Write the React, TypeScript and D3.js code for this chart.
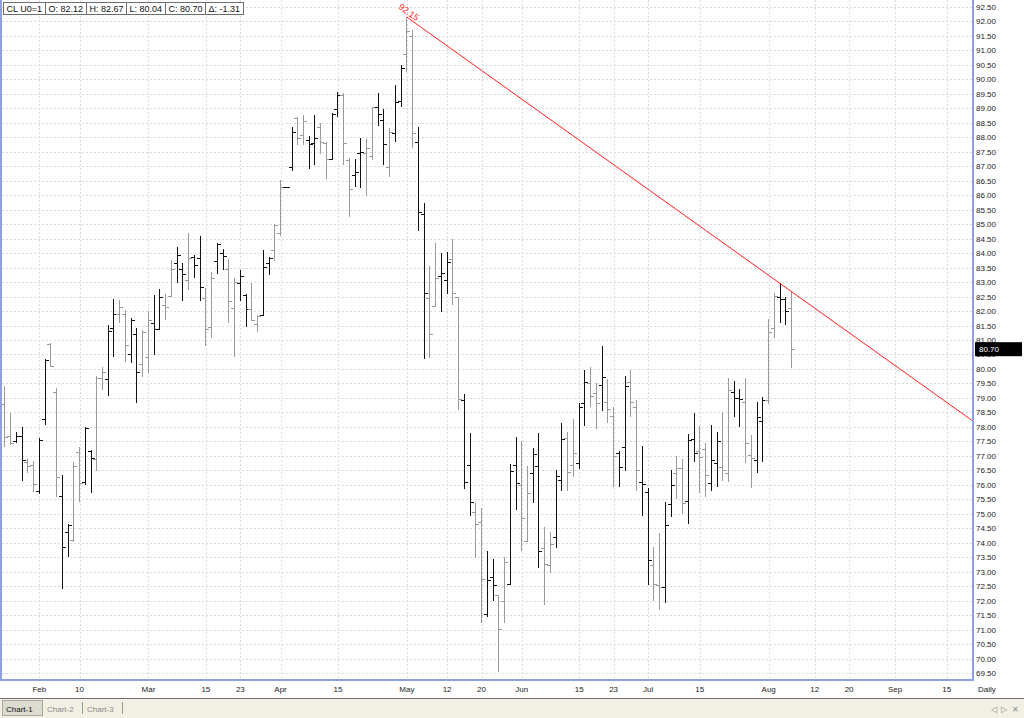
import { useMemo } from 'react';
import * as d3 from 'd3';

const WIDTH = 1024;
const HEIGHT = 718;
const PLOT = { left: 2, right: 972, top: 0, bottom: 680 };
const FONT = '"Liberation Sans", Arial, sans-serif';

// trading calendar (weekdays minus exchange holidays, Good Friday kept as a flat bar)
const CAL_START = '2010-01-22';
const CAL_END = '2010-09-30';
const HOLIDAYS = ['2010-02-15', '2010-05-31', '2010-07-05', '2010-09-06'];
// visible bar-index window of the chart
const X_DOMAIN = [-0.5, 168.4];
const Y_DOMAIN = [69.5, 92.5];

// CL U0 daily bars, 22 Jan .. 6 Aug 2010
const opens = [
  78.8, 77.7, 77.5, 77.7, 76.8, 76.7, 75.8, 78.26, 80.85, 79.2, 75.6, 74.37, 74.1, 77.12, 76.1, 77.18, 76.88, 79.7, 79.64, 81.4,
  81.9, 81.9, 80.5, 81.2, 80.16, 80.43, 81.6, 81.37, 82.21, 82.52, 83.67, 83.44, 83.07, 83.88, 83.82, 82.44, 81.44, 83.73, 84.0, 83.44,
  82.1, 82.96, 82.56, 82.06, 81.54, 81.86, 83.65, 84.11, 84.7, 86.3, 86.99, 88.66, 88.08, 87.9, 87.79, 88.37, 87.81, 87.24, 88.97, 89.46,
  87.22, 86.7, 87.46, 87.45, 87.35, 89.06, 88.6, 86.99, 88.14, 89.26, 90.88, 91.5, 87.85, 85.35, 82.44, 82.18, 83.2, 83.07, 83.79, 82.48,
  78.93, 76.69, 75.07, 74.73, 71.54, 72.83, 72.2, 71.97, 72.58, 76.69, 75.99, 74.07, 76.4, 76.65, 73.81, 73.23, 74.19, 76.17, 77.61, 76.69,
  76.74, 78.82, 79.5, 79.16, 79.45, 78.87, 78.38, 77.11, 77.3, 79.56, 78.68, 76.11, 75.74, 73.23, 72.54, 72.46, 75.33, 76.42, 76.57, 75.45,
  77.57, 77.15, 77.23, 76.05, 76.74, 76.6, 76.4, 79.22, 78.99, 78.87, 77.03, 76.86, 78.21, 78.93, 81.4, 82.5, 82.42, 82.12,
];
const highs = [
  79.4, 78.47, 77.81, 77.99, 76.88, 76.83, 77.61, 80.33, 80.91, 79.33, 76.34, 74.64, 76.78, 77.3, 78.01, 77.2, 79.76, 80.08, 81.52, 82.4,
  82.38, 82.04, 81.75, 81.4, 81.35, 82.0, 82.56, 82.76, 82.58, 83.76, 84.2, 83.67, 84.69, 83.94, 84.58, 82.79, 83.36, 84.34, 84.13, 83.79,
  83.13, 83.42, 82.59, 82.96, 81.86, 84.1, 83.86, 85.0, 86.53, 86.3, 88.37, 88.69, 88.77, 88.05, 88.77, 88.48, 87.85, 88.83, 89.58, 89.52,
  87.27, 87.25, 87.97, 87.93, 89.06, 89.54, 88.97, 88.31, 89.81, 90.5, 92.15, 91.71, 88.37, 85.72, 83.56, 84.36, 84.02, 84.05, 84.48, 82.48,
  79.15, 77.78, 75.38, 75.19, 73.73, 73.43, 72.2, 73.52, 76.72, 77.64, 77.51, 76.65, 77.26, 77.78, 74.53, 74.38, 76.51, 78.12, 77.84, 78.26,
  78.84, 79.96, 80.08, 79.5, 80.79, 79.64, 78.68, 77.15, 79.74, 79.95, 78.93, 77.34, 75.88, 73.84, 74.32, 75.42, 76.51, 77.0, 76.88, 77.76,
  78.49, 78.03, 77.46, 78.07, 77.84, 78.52, 79.68, 79.6, 79.3, 79.68, 77.72, 78.87, 79.04, 81.72, 82.61, 82.96, 82.48, 82.67,
];
const lows = [
  77.3, 77.38, 77.46, 76.14, 76.4, 75.74, 75.67, 78.07, 80.08, 75.59, 72.39, 73.52, 74.04, 75.4, 76.0, 75.7, 76.48, 79.27, 79.07, 80.4,
  81.58, 80.25, 80.2, 78.84, 79.73, 79.87, 80.48, 81.35, 81.69, 82.52, 82.96, 82.35, 82.73, 83.13, 82.35, 80.8, 81.06, 83.28, 83.42, 81.58,
  80.43, 82.33, 81.44, 81.66, 81.29, 81.84, 83.25, 83.74, 84.6, 86.3, 86.85, 87.73, 87.73, 86.9, 87.04, 87.42, 86.55, 87.22, 88.69, 87.04,
  85.24, 86.3, 86.24, 85.98, 87.22, 88.4, 87.04, 86.62, 87.85, 89.06, 90.27, 87.62, 84.78, 80.33, 80.39, 82.18, 81.98, 82.59, 82.21, 78.58,
  75.85, 74.92, 73.46, 71.22, 71.43, 72.0, 69.55, 71.22, 72.58, 75.13, 73.73, 74.04, 75.38, 73.12, 71.85, 72.94, 73.81, 75.8, 75.8, 76.28,
  76.54, 78.03, 78.68, 77.92, 78.55, 78.15, 75.94, 75.94, 76.49, 78.33, 75.8, 74.92, 72.54, 72.0, 71.68, 71.93, 74.9, 75.5, 74.99, 74.65,
  76.8, 75.73, 75.57, 75.8, 75.94, 76.14, 76.11, 78.35, 78.01, 76.74, 75.88, 76.42, 76.8, 78.78, 81.06, 81.58, 81.52, 80.04,
];
const closes = [
  77.65, 77.46, 77.7, 76.86, 76.65, 76.02, 77.55, 80.3, 80.1, 76.28, 73.85, 74.6, 76.66, 76.05, 77.95, 76.92, 79.68, 79.91, 81.3, 81.9,
  82.13, 80.83, 81.7, 79.89, 81.28, 81.69, 81.37, 82.49, 82.13, 83.44, 83.94, 83.28, 83.82, 83.59, 82.82, 81.38, 83.13, 84.32, 83.9, 82.36,
  83.01, 83.21, 82.06, 81.69, 81.83, 83.51, 83.82, 84.97, 86.3, 86.3, 88.19, 87.97, 88.56, 87.77, 87.97, 87.85, 87.24, 88.8, 89.46, 87.79,
  86.2, 86.8, 87.49, 87.62, 89.06, 88.8, 87.76, 88.19, 89.23, 90.38, 91.68, 88.14, 85.43, 82.63, 81.2, 83.15, 83.3, 83.71, 82.63, 78.95,
  76.11, 75.42, 74.65, 72.74, 72.71, 72.53, 71.01, 73.32, 76.48, 76.05, 74.84, 75.73, 77.06, 73.73, 73.27, 73.96, 76.31, 77.57, 76.45, 77.11,
  78.68, 79.56, 79.08, 78.82, 79.71, 78.61, 77.0, 76.63, 79.41, 78.87, 76.51, 76.03, 73.41, 72.58, 72.46, 74.61, 75.99, 76.57, 75.38, 77.55,
  77.11, 76.97, 76.34, 76.86, 77.52, 76.5, 79.27, 78.99, 78.96, 77.46, 76.92, 78.35, 78.93, 81.29, 82.52, 82.42, 82.01, 80.7,
];

// date axis
const tickDates = [
  '2010-02-01', '2010-02-10', '2010-03-01', '2010-03-15', '2010-03-23', '2010-04-01', '2010-04-15', '2010-05-03', '2010-05-12', '2010-05-20',
  '2010-06-01', '2010-06-15', '2010-06-23', '2010-07-01', '2010-07-15', '2010-08-02', '2010-08-12', '2010-08-20', '2010-09-01', '2010-09-15',
];
const tickLabels = ['Feb', '10', 'Mar', '15', '23', 'Apr', '15', 'May', '12', '20', 'Jun', '15', '23', 'Jul', '15', 'Aug', '12', '20', 'Sep', '15'];

// trendline drawn from the May high through the Aug 4 high
const trendDates = ['2010-05-03', '2010-08-04'];
const trendValues = [92.15, 82.95];

const headerItems = ['CL U0=1', 'O: 82.12', 'H: 82.67', 'L: 80.04', 'C: 80.70', '\u0394: -1.31'];
const lastPrice = 80.7;
const tabs = ['Chart-1', 'Chart-2', 'Chart-3'];

const parse = d3.timeParse('%Y-%m-%d');
const fmt = d3.timeFormat('%Y-%m-%d');

let ctx: CanvasRenderingContext2D | null = null;
const textWidth = (t: string, font: string) => {
  if (!ctx) ctx = document.createElement('canvas').getContext('2d');
  if (!ctx) return t.length * 5;
  ctx.font = font;
  return ctx.measureText(t).width;
};

export default function App() {
  const days = useMemo(
    () =>
      d3
        .timeDay.range(parse(CAL_START) as Date, d3.timeDay.offset(parse(CAL_END) as Date, 1))
        .filter((d) => d.getDay() !== 0 && d.getDay() !== 6)
        .map((d) => fmt(d))
        .filter((s) => !HOLIDAYS.includes(s)),
    []
  );
  const dayIndex = (s: string) => days.indexOf(s);

  const xScale = d3.scaleLinear().domain(X_DOMAIN).range([PLOT.left, PLOT.right]);
  const yScale = d3.scaleLinear().domain(Y_DOMAIN).range([PLOT.bottom - 7, PLOT.top + 7]);

  const yTicks = d3.range(Y_DOMAIN[0], Y_DOMAIN[1] + 0.01, 0.5);
  const px = (v: number) => Math.round(v) + 0.5;

  // bars: snapped to the pixel grid; bars that fall between two pixels come out greyed
  const bars = opens.map((o, i) => {
    const xr = xScale(i);
    const frac = xr - Math.floor(xr);
    const x = Math.floor(xr) + 0.5;
    const yh = Math.round(yScale(highs[i]));
    const yl = Math.max(Math.round(yScale(lows[i])), yh + 1);
    const d =
      'M' + x + ',' + yh + 'V' + yl +
      'M' + (x - 3.5) + ',' + px(yScale(o)) + 'H' + x +
      'M' + x + ',' + px(yScale(closes[i])) + 'H' + (x + 3.5);
    return { d, grey: frac >= 0.4 && frac < 0.9 };
  });

  // trendline
  const i0 = dayIndex(trendDates[0]);
  const i1 = dayIndex(trendDates[1]);
  const slope = (trendValues[1] - trendValues[0]) / (i1 - i0);
  const iEnd = X_DOMAIN[1];
  const tx0 = xScale(i0);
  const ty0 = yScale(trendValues[0]);
  const tx1 = xScale(iEnd);
  const ty1 = yScale(trendValues[0] + slope * (iEnd - i0));
  const angle = (Math.atan2(ty1 - ty0, tx1 - tx0) * 180) / Math.PI;

  // header boxes
  const headerFont = `9px ${FONT}`;
  let hx = 3;
  const headerBoxes = headerItems.map((t) => {
    const w = Math.round(textWidth(t, headerFont) + 6);
    const box = { x: hx, w, t };
    hx += w;
    return box;
  });

  const gridColor = '#dcdcdc';
  const frameColor = '#8aa2e4';
  const priceY = yScale(lastPrice);

  return (
    <div style={{ position: 'fixed', left: 0, top: 0, width: WIDTH, height: HEIGHT, background: '#fff' }}>
      <svg width={WIDTH} height={HEIGHT} style={{ display: 'block', fontFamily: FONT }}>
        <rect x={0} y={0} width={WIDTH} height={HEIGHT} fill="#fff" />

        {/* grid */}
        <g stroke={gridColor} strokeWidth={1} strokeDasharray="2,2" shapeRendering="crispEdges">
          {yTicks.map((v) => (
            <line key={'h' + v} x1={PLOT.left} x2={PLOT.right} y1={px(yScale(v))} y2={px(yScale(v))} />
          ))}
          {tickDates.map((d) => {
            const x = px(xScale(dayIndex(d)));
            return <line key={'v' + d} x1={x} x2={x} y1={PLOT.top} y2={PLOT.bottom} />;
          })}
        </g>

        {/* OHLC bars */}
        <g strokeWidth={1} fill="none" shapeRendering="crispEdges">
          {bars.map((b, i) => (
            <path key={i} d={b.d} stroke={b.grey ? '#9a9a9a' : '#111'} />
          ))}
        </g>

        {/* trendline */}
        <line x1={tx0} y1={ty0} x2={tx1} y2={ty1} stroke="#ff2020" strokeWidth={1} />
        <text
          x={tx0 - 9}
          y={ty0 - 9}
          fontSize={9}
          fill="#ff2020"
          transform={`rotate(${angle}, ${tx0 - 9}, ${ty0 - 9})`}
        >
          {trendValues[0].toFixed(2)}
        </text>

        {/* frame */}
        <g stroke={frameColor} strokeWidth={2}>
          <line x1={1} x2={1} y1={0} y2={PLOT.bottom + 1} />
          <line x1={PLOT.right + 1} x2={PLOT.right + 1} y1={0} y2={PLOT.bottom + 1} />
          <line x1={0} x2={PLOT.right + 2} y1={PLOT.bottom} y2={PLOT.bottom} />
        </g>

        {/* price axis; the last-price box sits over the neighbouring label as in the original */}
        <g fontSize={8} fill="#222">
          {yTicks.map((v) => (
            <text key={'yl' + v} x={976} y={yScale(v) + 3}>
              {v.toFixed(2)}
            </text>
          ))}
        </g>
        <rect x={975} y={priceY - 6.5} width={47} height={14} fill="#000" />
        <text x={979} y={priceY + 3.5} fontSize={8} fill="#fff">
          {lastPrice.toFixed(2)}
        </text>

        {/* date axis */}
        <g fontSize={8} fill="#222" textAnchor="middle">
          {tickDates.map((d, i) => (
            <text key={'xl' + d} x={xScale(dayIndex(d))} y={692}>
              {tickLabels[i]}
            </text>
          ))}
        </g>
        <text x={978} y={692} fontSize={8} fill="#222">
          Daily
        </text>

        {/* header */}
        <g>
          {headerBoxes.map((b) => (
            <g key={b.t}>
              <rect x={b.x + 0.5} y={2.5} width={b.w} height={12} fill="#fff" stroke="#6e6e6e" />
              <text x={b.x + 3.5} y={11.8} fontSize={9} fill="#111">
                {b.t}
              </text>
            </g>
          ))}
        </g>

        {/* tab strip */}
        <rect x={0} y={698} width={WIDTH} height={20} fill="#f2efe3" />
        <line x1={0} x2={WIDTH} y1={698.5} y2={698.5} stroke="#6f6f6f" />
        <rect x={2.5} y={700.5} width={40} height={15} fill="#dedbd0" stroke="#a8a59b" />
        {tabs.map((t, i) => {
          const x = 6 + i * 40 - (i > 0 ? -1 : 0);
          return (
            <g key={t}>
              <text x={x} y={711.5} fontSize={8} fill={i === 0 ? '#111' : '#8a8a8a'}>
                {t}
              </text>
              {i > 0 && (
                <line x1={x + 35.5} x2={x + 35.5} y1={702} y2={714} stroke="#9a9a9a" />
              )}
            </g>
          );
        })}
        <text x={991} y={711.5} fontSize={8} fill="#8a8a8a">
          {'\u25C1'}
        </text>
        <text x={1001} y={711.5} fontSize={8} fill="#8a8a8a">
          {'\u25B7'}
        </text>
        <text x={1012} y={711.5} fontSize={8} fill="#8a8a8a">
          {'\u2715'}
        </text>
      </svg>
    </div>
  );
}
